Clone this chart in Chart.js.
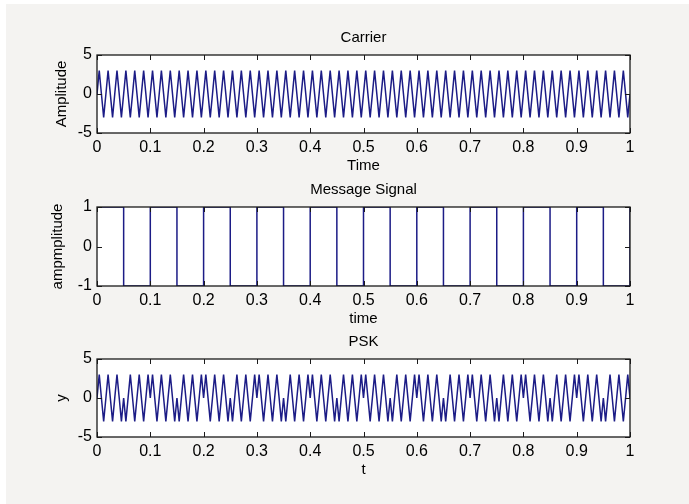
<!DOCTYPE html>
<html>
<head>
<meta charset="utf-8">
<script src="https://cdn.jsdelivr.net/npm/chart.js@4.4.1/dist/chart.umd.min.js"></script>
<style>
    html, body { margin: 0; padding: 0; background: #ffffff; }
    #fig { position: absolute; left: 6px; top: 4px; width: 683px; height: 500px; background: #f4f3f1; }
    .panel { position: absolute; left: 0; }
</style>
</head>
<body>
<div id="fig"></div>
<div class="panel" style="top:20px"><canvas id="carrierChart" width="689" height="160"></canvas></div>
<div class="panel" style="top:172px"><canvas id="messageChart" width="689" height="160"></canvas></div>
<div class="panel" style="top:324px"><canvas id="pskChart" width="689" height="160"></canvas></div>
<script>
// Sample times (quarter periods of the 60-cycle carrier)
const timeGrid = [
    0, 0.0042, 0.0083, 0.0125, 0.0167, 0.0208, 0.025, 0.0292, 0.0333, 0.0375, 0.0417, 0.0458,
    0.05, 0.0542, 0.0583, 0.0625, 0.0667, 0.0708, 0.075, 0.0792, 0.0833, 0.0875, 0.0917, 0.0958,
    0.1, 0.1042, 0.1083, 0.1125, 0.1167, 0.1208, 0.125, 0.1292, 0.1333, 0.1375, 0.1417, 0.1458,
    0.15, 0.1542, 0.1583, 0.1625, 0.1667, 0.1708, 0.175, 0.1792, 0.1833, 0.1875, 0.1917, 0.1958,
    0.2, 0.2042, 0.2083, 0.2125, 0.2167, 0.2208, 0.225, 0.2292, 0.2333, 0.2375, 0.2417, 0.2458,
    0.25, 0.2542, 0.2583, 0.2625, 0.2667, 0.2708, 0.275, 0.2792, 0.2833, 0.2875, 0.2917, 0.2958,
    0.3, 0.3042, 0.3083, 0.3125, 0.3167, 0.3208, 0.325, 0.3292, 0.3333, 0.3375, 0.3417, 0.3458,
    0.35, 0.3542, 0.3583, 0.3625, 0.3667, 0.3708, 0.375, 0.3792, 0.3833, 0.3875, 0.3917, 0.3958,
    0.4, 0.4042, 0.4083, 0.4125, 0.4167, 0.4208, 0.425, 0.4292, 0.4333, 0.4375, 0.4417, 0.4458,
    0.45, 0.4542, 0.4583, 0.4625, 0.4667, 0.4708, 0.475, 0.4792, 0.4833, 0.4875, 0.4917, 0.4958,
    0.5, 0.5042, 0.5083, 0.5125, 0.5167, 0.5208, 0.525, 0.5292, 0.5333, 0.5375, 0.5417, 0.5458,
    0.55, 0.5542, 0.5583, 0.5625, 0.5667, 0.5708, 0.575, 0.5792, 0.5833, 0.5875, 0.5917, 0.5958,
    0.6, 0.6042, 0.6083, 0.6125, 0.6167, 0.6208, 0.625, 0.6292, 0.6333, 0.6375, 0.6417, 0.6458,
    0.65, 0.6542, 0.6583, 0.6625, 0.6667, 0.6708, 0.675, 0.6792, 0.6833, 0.6875, 0.6917, 0.6958,
    0.7, 0.7042, 0.7083, 0.7125, 0.7167, 0.7208, 0.725, 0.7292, 0.7333, 0.7375, 0.7417, 0.7458,
    0.75, 0.7542, 0.7583, 0.7625, 0.7667, 0.7708, 0.775, 0.7792, 0.7833, 0.7875, 0.7917, 0.7958,
    0.8, 0.8042, 0.8083, 0.8125, 0.8167, 0.8208, 0.825, 0.8292, 0.8333, 0.8375, 0.8417, 0.8458,
    0.85, 0.8542, 0.8583, 0.8625, 0.8667, 0.8708, 0.875, 0.8792, 0.8833, 0.8875, 0.8917, 0.8958,
    0.9, 0.9042, 0.9083, 0.9125, 0.9167, 0.9208, 0.925, 0.9292, 0.9333, 0.9375, 0.9417, 0.9458,
    0.95, 0.9542, 0.9583, 0.9625, 0.9667, 0.9708, 0.975, 0.9792, 0.9833, 0.9875, 0.9917, 0.9958,
    1
];

// Carrier: peaks and troughs at about +/-3
const carrierAmp = [
    0, 3, 0, -3, 0, 3, 0, -3, 0, 3, 0, -3,
    0, 3, 0, -3, 0, 3, 0, -3, 0, 3, 0, -3,
    0, 3, 0, -3, 0, 3, 0, -3, 0, 3, 0, -3,
    0, 3, 0, -3, 0, 3, 0, -3, 0, 3, 0, -3,
    0, 3, 0, -3, 0, 3, 0, -3, 0, 3, 0, -3,
    0, 3, 0, -3, 0, 3, 0, -3, 0, 3, 0, -3,
    0, 3, 0, -3, 0, 3, 0, -3, 0, 3, 0, -3,
    0, 3, 0, -3, 0, 3, 0, -3, 0, 3, 0, -3,
    0, 3, 0, -3, 0, 3, 0, -3, 0, 3, 0, -3,
    0, 3, 0, -3, 0, 3, 0, -3, 0, 3, 0, -3,
    0, 3, 0, -3, 0, 3, 0, -3, 0, 3, 0, -3,
    0, 3, 0, -3, 0, 3, 0, -3, 0, 3, 0, -3,
    0, 3, 0, -3, 0, 3, 0, -3, 0, 3, 0, -3,
    0, 3, 0, -3, 0, 3, 0, -3, 0, 3, 0, -3,
    0, 3, 0, -3, 0, 3, 0, -3, 0, 3, 0, -3,
    0, 3, 0, -3, 0, 3, 0, -3, 0, 3, 0, -3,
    0, 3, 0, -3, 0, 3, 0, -3, 0, 3, 0, -3,
    0, 3, 0, -3, 0, 3, 0, -3, 0, 3, 0, -3,
    0, 3, 0, -3, 0, 3, 0, -3, 0, 3, 0, -3,
    0, 3, 0, -3, 0, 3, 0, -3, 0, 3, 0, -3,
    0
];

// PSK: carrier with phase flipped on every other bit
const pskAmp = [
    0, 3, 0, -3, 0, 3, 0, -3, 0, 3, 0, -3,
    0, -3, 0, 3, 0, -3, 0, 3, 0, -3, 0, 3,
    0, 3, 0, -3, 0, 3, 0, -3, 0, 3, 0, -3,
    0, -3, 0, 3, 0, -3, 0, 3, 0, -3, 0, 3,
    0, 3, 0, -3, 0, 3, 0, -3, 0, 3, 0, -3,
    0, -3, 0, 3, 0, -3, 0, 3, 0, -3, 0, 3,
    0, 3, 0, -3, 0, 3, 0, -3, 0, 3, 0, -3,
    0, -3, 0, 3, 0, -3, 0, 3, 0, -3, 0, 3,
    0, 3, 0, -3, 0, 3, 0, -3, 0, 3, 0, -3,
    0, -3, 0, 3, 0, -3, 0, 3, 0, -3, 0, 3,
    0, 3, 0, -3, 0, 3, 0, -3, 0, 3, 0, -3,
    0, -3, 0, 3, 0, -3, 0, 3, 0, -3, 0, 3,
    0, 3, 0, -3, 0, 3, 0, -3, 0, 3, 0, -3,
    0, -3, 0, 3, 0, -3, 0, 3, 0, -3, 0, 3,
    0, 3, 0, -3, 0, 3, 0, -3, 0, 3, 0, -3,
    0, -3, 0, 3, 0, -3, 0, 3, 0, -3, 0, 3,
    0, 3, 0, -3, 0, 3, 0, -3, 0, 3, 0, -3,
    0, -3, 0, 3, 0, -3, 0, 3, 0, -3, 0, 3,
    0, 3, 0, -3, 0, 3, 0, -3, 0, 3, 0, -3,
    0, -3, 0, 3, 0, -3, 0, 3, 0, -3, 0, 3,
    0
];

// Message signal: square wave, one level per 0.05 s
const bitEdges = [0, 0.05, 0.1, 0.15, 0.2, 0.25, 0.3, 0.35, 0.4, 0.45, 0.5,
                  0.55, 0.6, 0.65, 0.7, 0.75, 0.8, 0.85, 0.9, 0.95, 1];
const messageBits = [1, -1, 1, -1, 1, -1, 1, -1, 1, -1, 1, -1, 1, -1, 1, -1, 1, -1, 1, -1];
const messageEnd = 1;

const xTicks = [0, 0.1, 0.2, 0.3, 0.4, 0.5, 0.6, 0.7, 0.8, 0.9, 1];
const carrierYTicks = [-5, 0, 5];
const messageYTicks = [-1, 0, 1];
const pskYTicks = [-5, 0, 5];

const FONT = '"Liberation Sans", Arial, Helvetica, sans-serif';
const LINE_COLOR = '#1c1c86';

function toPoints(xs, ys) {
    return xs.map((x, i) => ({ x: x, y: ys[i] }));
}

function messagePoints() {
    const pts = [];
    messageBits.forEach((b, i) => {
        pts.push({ x: bitEdges[i], y: b });
        pts.push({ x: bitEdges[i + 1], y: b });
    });
    pts.push({ x: 1, y: messageEnd });
    return pts;
}

// MATLAB-like box, inward ticks and labels
const matlabAxes = {
    id: 'matlabAxes',
    beforeDatasetsDraw(chart) {
        const { ctx, chartArea: a } = chart;
        ctx.save();
        ctx.fillStyle = '#ffffff';
        ctx.fillRect(a.left, a.top, a.right - a.left, a.bottom - a.top);
        ctx.restore();
    },
    afterDraw(chart, args, opts) {
        const { ctx, chartArea: a } = chart;
        const xs = chart.scales.x, ys = chart.scales.y;
        const tl = 5;
        ctx.save();
        ctx.strokeStyle = '#1a1a1a';
        ctx.lineWidth = 1;
        ctx.beginPath();
        xs.ticks.forEach(t => {
            const px = Math.round(xs.getPixelForValue(t.value)) + 0.5;
            ctx.moveTo(px, a.top); ctx.lineTo(px, a.top + tl);
            ctx.moveTo(px, a.bottom); ctx.lineTo(px, a.bottom - tl);
        });
        ys.ticks.forEach(t => {
            const py = Math.round(ys.getPixelForValue(t.value)) + 0.5;
            ctx.moveTo(a.left, py); ctx.lineTo(a.left + tl, py);
            ctx.moveTo(a.right, py); ctx.lineTo(a.right - tl, py);
        });
        ctx.stroke();
        ctx.lineWidth = 1.3;
        ctx.strokeRect(a.left, a.top, a.right - a.left, a.bottom - a.top);

        ctx.fillStyle = '#000000';
        ctx.font = '15px ' + FONT;
        ctx.textAlign = 'center';
        ctx.textBaseline = 'middle';
        const cx = (a.left + a.right) / 2;
        ctx.fillText(opts.title, cx, a.top - 17);
        ctx.fillText(opts.xLabel, cx, a.bottom + 33);
        ctx.translate(a.left - opts.yLabelGap, (a.top + a.bottom) / 2);
        ctx.rotate(-Math.PI / 2);
        ctx.fillText(opts.yLabel, 0, 0);
        ctx.restore();
    }
};

function makeChart(id, data, yTicks, labels, xHeight) {
    const yMin = yTicks[0], yMax = yTicks[yTicks.length - 1];
    return new Chart(document.getElementById(id), {
        type: 'line',
        data: {
            datasets: [{
                data: data,
                borderColor: LINE_COLOR,
                borderWidth: 1.5,
                pointRadius: 0,
                tension: 0,
                fill: false
            }]
        },
        options: {
            responsive: false,
            animation: false,
            events: [],
            layout: { padding: { left: 0, right: 59, top: 35, bottom: 0 } },
            plugins: {
                legend: { display: false },
                tooltip: { enabled: false },
                matlabAxes: labels
            },
            scales: {
                x: {
                    type: 'linear',
                    min: 0,
                    max: 1,
                    grid: { display: false, drawTicks: false },
                    border: { display: false },
                    afterBuildTicks: (s) => { s.ticks = xTicks.map(v => ({ value: v })); },
                    afterFit: (s) => { s.height = xHeight; s.paddingLeft = 0; s.paddingRight = 0; },
                    ticks: {
                        padding: 5,
                        color: '#000000',
                        maxRotation: 0,
                        autoSkip: false,
                        font: { family: FONT, size: 16 },
                        callback: (v) => String(v)
                    }
                },
                y: {
                    type: 'linear',
                    min: yMin,
                    max: yMax,
                    grid: { display: false, drawTicks: false },
                    border: { display: false },
                    afterBuildTicks: (s) => { s.ticks = yTicks.map(v => ({ value: v })); },
                    afterFit: (s) => { s.width = 97; s.paddingTop = 0; s.paddingBottom = 0; },
                    ticks: {
                        padding: 5,
                        color: '#000000',
                        font: { family: FONT, size: 16 },
                        callback: (v) => String(v)
                    }
                }
            }
        },
        plugins: [matlabAxes]
    });
}

makeChart('carrierChart', toPoints(timeGrid, carrierAmp), carrierYTicks,
    { title: 'Carrier', xLabel: 'Time', yLabel: 'Amplitude', yLabelGap: 35 }, 47);
makeChart('messageChart', messagePoints(), messageYTicks,
    { title: 'Message Signal', xLabel: 'time', yLabel: 'ampmplitude', yLabelGap: 39 }, 46);
makeChart('pskChart', toPoints(timeGrid, pskAmp), pskYTicks,
    { title: 'PSK', xLabel: 't', yLabel: 'y', yLabelGap: 35 }, 47);
</script>
</body>
</html>
